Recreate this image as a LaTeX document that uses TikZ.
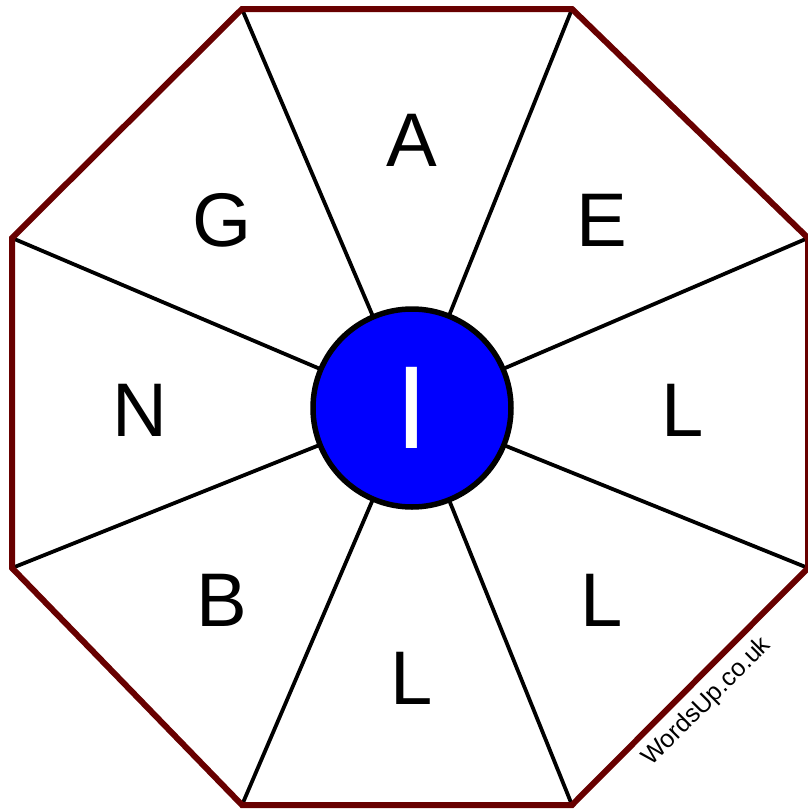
\documentclass[tikz,border=0pt]{standalone}
\usepackage{fontspec}
\setmainfont{Liberation Sans}
\definecolor{rim}{RGB}{104,0,0}
\definecolor{hub}{RGB}{0,0,255}
\begin{document}
\begin{tikzpicture}[x=1pt,y=-1pt,
  spoke/.style={line width=3.8pt,black},
  rimline/.style={line width=6pt,rim,line join=miter},
  letter/.style={font=\fontsize{76}{76}\selectfont,text=black,inner sep=0pt},
  hubnode/.style={circle,draw=black,line width=5.5pt,fill=hub,minimum size=198pt,inner sep=0pt,
     font=\fontsize{118}{118}\selectfont,text=white}]
\useasboundingbox (0,0) rectangle (807,809);
\coordinate (o) at (412,408);
\coordinate (v1) at (242,9);
\coordinate (v2) at (572,9);
\coordinate (v3) at (808,238);
\coordinate (v4) at (808,568);
\coordinate (v5) at (572,805);
\coordinate (v6) at (242,805);
\coordinate (v7) at (12,568);
\coordinate (v8) at (12,238);
\foreach \v in {v1,v2,v3,v4,v5,v6,v7,v8} \draw[spoke] (o) -- (\v);
\draw[rimline] (v1) -- (v2) -- (v3) -- (v4) -- (v5) -- (v6) -- (v7) -- (v8) -- cycle;
\node[hubnode] (c) at (412,408) {I};
\node[letter] (la) at (412,140) {A};
\node[letter] (le) at (602,220) {E};
\node[letter] (l1) at (683,410) {L};
\node[letter] (l2) at (602,600) {L};
\node[letter] (l3) at (412,678) {L};
\node[letter] (lb) at (222,600) {B};
\node[letter] (ln) at (140,410) {N};
\node[letter] (lg) at (222,220) {G};
\node[font=\fontsize{25}{25}\selectfont,rotate=45,inner sep=0pt] (wm) at (707,702) {WordsUp.co.uk};
\end{tikzpicture}
\end{document}
